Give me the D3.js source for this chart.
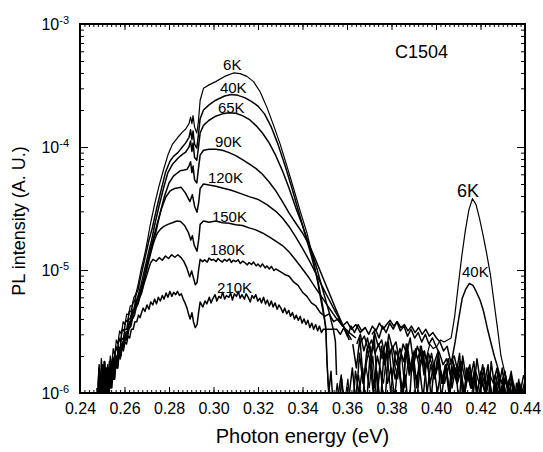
<!DOCTYPE html>
<html>
<head>
<meta charset="utf-8">
<script src="https://cdn.jsdelivr.net/npm/d3@7"></script>
<style>
  body { margin: 0; background: #fff; }
  svg { display: block; font-family: "Liberation Sans", Arial, sans-serif; }
</style>
</head>
<body>
<svg id="chart" width="543" height="452"></svg>
<script>
// temperatures (one PL spectrum each)
const temps = ['6K', '40K', '65K', '90K', '120K', '150K', '180K', '210K'];
const xTicks = [0.24, 0.26, 0.28, 0.30, 0.32, 0.34, 0.36, 0.38, 0.40, 0.42, 0.44];
const yTicks = [1e-6, 1e-5, 1e-4, 1e-3];

// noisy foot of the rising edge, [photon energy (eV), intensity in units of 1e-6]
const low6K = [[0.2482,0.7],[0.2488,1.6],[0.2494,0.8],[0.2500,1.4],[0.2506,0.9],[0.2512,1.8],[0.2518,1.1],[0.2524,1.7],[0.2530,1.3],[0.2536,2.0],[0.2542,1.6],[0.2549,2.3],[0.2556,2.0],[0.2563,2.7],[0.2570,2.5],[0.2578,3.2],[0.2586,3.0],[0.2594,3.8],[0.2602,3.6],[0.2610,4.4],[0.2618,4.3],[0.2626,5.1],[0.2634,5.1],[0.2642,6.0],[0.2650,6.3],[0.2658,7.2],[0.2666,8.4],[0.2674,10.0],[0.2682,11.5],[0.2690,13.2],[0.2698,15.5],[0.2706,18.5]];
const low40K = [[0.2486,1.0],[0.2492,0.6],[0.2498,1.5],[0.2504,0.9],[0.2510,1.6],[0.2516,0.8],[0.2522,1.5],[0.2528,1.1],[0.2534,1.8],[0.2540,1.3],[0.2547,2.0],[0.2554,1.7],[0.2561,2.4],[0.2568,2.2],[0.2575,2.8],[0.2582,2.6],[0.2590,3.3],[0.2598,3.2],[0.2606,3.9],[0.2614,3.8],[0.2622,4.6],[0.2630,4.6],[0.2638,5.4],[0.2646,5.6],[0.2654,6.5],[0.2662,7.0],[0.2670,8.3],[0.2678,9.6],[0.2686,11.2],[0.2694,13.0],[0.2702,15.0],[0.2710,17.5]];
const low65K = [[0.2490,0.7],[0.2496,1.4],[0.2502,0.6],[0.2508,1.7],[0.2514,0.9],[0.2520,1.3],[0.2526,0.7],[0.2532,1.6],[0.2538,1.1],[0.2544,1.7],[0.2551,1.3],[0.2558,2.0],[0.2565,1.7],[0.2572,2.4],[0.2579,2.2],[0.2586,2.8],[0.2594,2.7],[0.2602,3.3],[0.2610,3.3],[0.2618,4.0],[0.2626,4.0],[0.2634,4.7],[0.2642,4.8],[0.2650,5.6],[0.2658,5.9],[0.2666,6.7],[0.2674,7.5],[0.2682,8.7],[0.2690,10.0],[0.2698,11.6],[0.2706,13.3],[0.2714,15.4],[0.2722,17.5]];
const low90K = [[0.2495,0.6],[0.2501,1.3],[0.2507,0.8],[0.2513,1.6],[0.2519,0.7],[0.2525,1.2],[0.2531,0.9],[0.2537,1.7],[0.2543,1.1],[0.2549,1.5],[0.2556,1.3],[0.2563,1.9],[0.2570,1.6],[0.2577,2.2],[0.2584,2.0],[0.2591,2.6],[0.2598,2.6],[0.2606,3.1],[0.2614,3.2],[0.2622,3.8],[0.2630,3.9],[0.2638,4.6],[0.2646,4.7],[0.2654,5.5],[0.2662,5.8],[0.2670,6.5],[0.2678,7.3],[0.2686,8.2],[0.2694,9.5],[0.2702,11.0],[0.2710,12.6],[0.2718,14.4],[0.2726,16.5]];
const low120K = [[0.2480,0.9],[0.2486,1.7],[0.2492,0.7],[0.2498,1.2],[0.2504,0.8],[0.2510,1.8],[0.2516,1.0],[0.2522,1.4],[0.2528,0.9],[0.2534,1.7],[0.2540,1.2],[0.2547,1.6],[0.2554,1.3],[0.2561,1.9],[0.2568,1.6],[0.2575,2.2],[0.2582,2.0],[0.2589,2.5],[0.2596,2.4],[0.2603,2.9],[0.2611,3.0],[0.2619,3.6],[0.2627,3.7],[0.2635,4.4],[0.2643,4.5],[0.2651,5.3],[0.2659,5.6],[0.2667,6.3],[0.2675,7.0],[0.2683,7.9],[0.2691,9.1],[0.2699,10.6],[0.2707,12.2],[0.2715,14.0],[0.2723,16.0],[0.2731,18.4]];
const low150K = [[0.2478,0.7],[0.2484,1.4],[0.2490,0.8],[0.2496,1.9],[0.2502,1.0],[0.2508,1.5],[0.2514,0.8],[0.2520,1.6],[0.2526,1.1],[0.2532,1.8],[0.2538,1.2],[0.2545,1.7],[0.2552,1.3],[0.2559,1.9],[0.2566,1.6],[0.2573,2.2],[0.2580,1.9],[0.2587,2.5],[0.2594,2.3],[0.2601,2.8],[0.2608,2.7],[0.2616,3.3],[0.2624,3.4],[0.2632,4.0],[0.2640,4.1],[0.2648,4.8],[0.2656,5.1],[0.2664,5.8],[0.2672,6.3],[0.2680,7.2],[0.2688,8.2],[0.2696,9.4],[0.2704,10.8],[0.2712,12.4],[0.2720,14.2],[0.2728,16.0],[0.2736,17.8]];
const low180K = [[0.2476,1.1],[0.2482,0.6],[0.2488,1.5],[0.2494,0.9],[0.2500,1.7],[0.2506,0.8],[0.2512,1.3],[0.2518,1.0],[0.2524,1.6],[0.2530,1.1],[0.2536,1.8],[0.2543,1.3],[0.2550,1.8],[0.2557,1.5],[0.2564,2.0],[0.2571,1.8],[0.2578,2.3],[0.2585,2.1],[0.2592,2.6],[0.2599,2.5],[0.2606,2.9],[0.2613,2.8],[0.2621,3.4],[0.2629,3.5],[0.2637,4.1],[0.2645,4.3],[0.2653,5.0],[0.2661,5.3],[0.2669,6.0],[0.2677,6.5],[0.2685,7.4],[0.2693,8.3],[0.2701,9.2],[0.2709,10.3],[0.2717,11.4]];
const low210K = [[0.2479,0.8],[0.2485,1.6],[0.2491,0.7],[0.2497,1.4],[0.2503,0.9],[0.2509,1.8],[0.2515,1.0],[0.2521,1.5],[0.2527,0.9],[0.2533,1.7],[0.2539,1.2],[0.2546,1.8],[0.2553,1.3],[0.2560,1.9],[0.2567,1.6],[0.2574,2.1],[0.2581,1.9],[0.2588,2.4],[0.2595,2.2],[0.2602,2.6],[0.2609,2.5],[0.2616,2.9],[0.2623,2.8],[0.2631,3.3],[0.2639,3.3],[0.2647,3.8],[0.2655,3.8],[0.2663,4.3],[0.2670,4.1]];

// main band, [photon energy (eV), PL intensity (a.u.)]
const pl6K = [[0.2715,2.3e-5],[0.2735,3.4e-5],[0.2755,4.8e-5],[0.2775,6.5e-5],[0.2795,8.6e-5],[0.2815,1.05e-4],[0.284,1.2e-4],[0.286,1.32e-4],[0.2875,1.4e-4],[0.289,1.55e-4],[0.2897,1.75e-4],[0.2903,1.55e-4],[0.2908,1.8e-4],[0.2915,1.45e-4],[0.2925,1.3e-4],[0.2932,1.6e-4],[0.294,2.4e-4],[0.2955,3.0e-4],[0.298,3.2e-4],[0.301,3.4e-4],[0.305,3.75e-4],[0.309,4.0e-4],[0.312,3.95e-4],[0.315,3.75e-4],[0.318,3.4e-4],[0.321,2.8e-4],[0.324,2.1e-4],[0.327,1.5e-4],[0.330,1.05e-4],[0.333,7e-5],[0.336,4.6e-5],[0.339,3.0e-5],[0.342,2.0e-5],[0.345,1.2e-5],[0.348,6e-6],[0.350,3.8e-6],[0.3505,3.2e-6],[0.351,1.8e-6],[0.3515,1.2e-6],[0.3525,0.7e-6]];
const pl40K = [[0.2725,2.2e-5],[0.2745,3.2e-5],[0.2765,4.5e-5],[0.2785,6.3e-5],[0.2805,7.7e-5],[0.282,8.4e-5],[0.284,9.0e-5],[0.286,1.0e-4],[0.2875,1.08e-4],[0.289,1.2e-4],[0.2897,1.38e-4],[0.2903,1.15e-4],[0.2908,1.35e-4],[0.2915,1.05e-4],[0.2925,0.98e-4],[0.2932,1.25e-4],[0.294,1.7e-4],[0.2955,2.0e-4],[0.298,2.2e-4],[0.301,2.4e-4],[0.305,2.6e-4],[0.308,2.67e-4],[0.311,2.63e-4],[0.314,2.52e-4],[0.317,2.35e-4],[0.320,2.15e-4],[0.323,1.85e-4],[0.326,1.45e-4],[0.329,1.05e-4],[0.332,7.2e-5],[0.335,4.8e-5],[0.338,3.1e-5],[0.341,2.0e-5],[0.344,1.3e-5],[0.347,8e-6],[0.349,5.2e-6],[0.3505,3.4e-6],[0.351,1.8e-6],[0.3518,1.0e-6],[0.3528,1.5e-6]];
const pl65K = [[0.2735,2.3e-5],[0.2755,3.3e-5],[0.2775,4.6e-5],[0.2795,6.2e-5],[0.2815,7.2e-5],[0.284,8.1e-5],[0.286,8.7e-5],[0.2875,9.1e-5],[0.289,1.0e-4],[0.2897,1.12e-4],[0.2903,9.2e-5],[0.2908,1.08e-4],[0.2915,8.2e-5],[0.2925,7.8e-5],[0.2932,9.8e-5],[0.294,1.3e-4],[0.2955,1.5e-4],[0.298,1.65e-4],[0.301,1.78e-4],[0.304,1.86e-4],[0.307,1.9e-4],[0.310,1.88e-4],[0.313,1.8e-4],[0.316,1.68e-4],[0.319,1.5e-4],[0.322,1.3e-4],[0.325,1.08e-4],[0.328,8.5e-5],[0.331,6.4e-5],[0.334,4.6e-5],[0.337,3.2e-5],[0.340,2.3e-5],[0.343,1.6e-5],[0.346,1.1e-5],[0.349,7e-6],[0.352,4.5e-6],[0.354,3.2e-6],[0.3548,2.6e-6],[0.3553,1.4e-6]];
const pl90K = [[0.274,2.0e-5],[0.276,2.9e-5],[0.278,4.0e-5],[0.280,5.1e-5],[0.282,5.8e-5],[0.2840,6.2e-5],[0.2850,6.4e-5],[0.2868,6.5e-5],[0.2882,6.6e-5],[0.2891,7.1e-5],[0.2897,7.6e-5],[0.2903,6.2e-5],[0.2908,7.0e-5],[0.2915,5.4e-5],[0.2925,5.1e-5],[0.2932,6.6e-5],[0.294,8.6e-5],[0.2955,9.4e-5],[0.298,9.6e-5],[0.301,9.6e-5],[0.304,9.4e-5],[0.307,9.0e-5],[0.310,8.5e-5],[0.313,7.9e-5],[0.316,7.3e-5],[0.319,6.7e-5],[0.322,6.0e-5],[0.325,5.2e-5],[0.328,4.4e-5],[0.331,3.6e-5],[0.334,2.9e-5],[0.337,2.4e-5],[0.340,2.0e-5],[0.343,1.6e-5],[0.346,1.2e-5],[0.349,8.8e-6],[0.352,6.5e-6],[0.355,4.8e-6],[0.358,3.6e-6],[0.361,2.7e-6]];
const pl120K = [[0.2745,2.3e-5],[0.2765,3.1e-5],[0.2785,3.9e-5],[0.2805,4.4e-5],[0.2825,4.6e-5],[0.2855,4.7e-5],[0.2875,4.2e-5],[0.2894,3.6e-5],[0.2905,4.1e-5],[0.2915,3.3e-5],[0.2926,2.95e-5],[0.2934,3.6e-5],[0.294,4.6e-5],[0.2955,5.0e-5],[0.298,4.9e-5],[0.301,4.8e-5],[0.304,4.65e-5],[0.308,4.45e-5],[0.312,4.2e-5],[0.316,3.95e-5],[0.320,3.75e-5],[0.324,3.4e-5],[0.328,3.0e-5],[0.331,2.65e-5],[0.334,2.25e-5],[0.337,1.85e-5],[0.340,1.5e-5],[0.343,1.2e-5],[0.346,9.4e-6],[0.349,7.3e-6],[0.352,5.7e-6],[0.355,4.5e-6],[0.358,3.6e-6],[0.362,2.7e-6]];
const pl150K = [[0.2748,2.0e-5],[0.2762,2.15e-5],[0.2775,2.25e-5],[0.2795,2.35e-5],[0.2815,2.42e-5],[0.2835,2.5e-5],[0.2852,2.48e-5],[0.287,2.3e-5],[0.2888,2.0e-5],[0.2898,1.75e-5],[0.2905,1.9e-5],[0.2913,1.6e-5],[0.2926,1.42e-5],[0.2934,1.8e-5],[0.294,2.35e-5],[0.2955,2.5e-5],[0.298,2.44e-5],[0.301,2.5e-5],[0.304,2.42e-5],[0.307,2.4e-5],[0.310,2.33e-5],[0.313,2.3e-5],[0.316,2.2e-5],[0.319,2.12e-5],[0.322,2.0e-5],[0.325,1.86e-5],[0.328,1.72e-5],[0.331,1.58e-5],[0.334,1.4e-5],[0.337,1.2e-5],[0.340,1.02e-5],[0.343,8.6e-6],[0.346,7.1e-6],[0.349,5.9e-6],[0.352,4.9e-6],[0.355,4.1e-6],[0.358,3.5e-6],[0.361,3.1e-6],[0.364,2.8e-6]];
const pl180K = [[0.2728,1.22e-5],[0.2742,1.18e-5],[0.2756,1.26e-5],[0.277,1.2e-5],[0.2784,1.3e-5],[0.2798,1.24e-5],[0.2812,1.33e-5],[0.2826,1.27e-5],[0.284,1.33e-5],[0.2854,1.26e-5],[0.2866,1.18e-5],[0.288,1.04e-5],[0.2893,8.8e-6],[0.2902,9.8e-6],[0.2910,8.6e-6],[0.2918,7.6e-6],[0.2926,7.9e-6],[0.2933,1.0e-5],[0.294,1.22e-5],[0.2951,1.17e-5],[0.296,1.21e-5],[0.2972,1.16e-5],[0.298,1.25e-5],[0.2991,1.2e-5],[0.300,1.22e-5],[0.3012,1.17e-5],[0.302,1.24e-5],[0.3031,1.19e-5],[0.304,1.16e-5],[0.3049,1.22e-5],[0.306,1.18e-5],[0.3072,1.23e-5],[0.308,1.15e-5],[0.3089,1.2e-5],[0.310,1.17e-5],[0.3111,1.21e-5],[0.312,1.13e-5],[0.3132,1.18e-5],[0.314,1.15e-5],[0.3152,1.1e-5],[0.316,1.15e-5],[0.3171,1.11e-5],[0.318,1.16e-5],[0.3192,1.08e-5],[0.320,1.12e-5],[0.3211,1.06e-5],[0.322,1.12e-5],[0.3232,1.04e-5],[0.324,1.08e-5],[0.3251,1.02e-5],[0.326,1.07e-5],[0.3272,0.99e-5],[0.328,1.02e-5],[0.330,9.7e-6],[0.332,9.2e-6],[0.334,8.9e-6],[0.336,8.0e-6],[0.338,7.5e-6],[0.340,6.6e-6],[0.342,6.1e-6],[0.344,5.4e-6],[0.346,5.1e-6],[0.348,4.5e-6],[0.350,4.2e-6],[0.352,4.4e-6],[0.354,3.8e-6],[0.356,4.0e-6],[0.358,3.5e-6],[0.360,3.8e-6],[0.362,3.3e-6],[0.364,3.6e-6],[0.366,3.1e-6],[0.368,3.4e-6]];
const pl210K = [[0.2675,4.4e-6],[0.2684,4.9e-6],[0.2692,4.6e-6],[0.2701,5.2e-6],[0.271,4.8e-6],[0.2718,5.5e-6],[0.2727,5.2e-6],[0.2735,5.8e-6],[0.2744,5.3e-6],[0.2752,6.0e-6],[0.2761,5.6e-6],[0.277,6.2e-6],[0.2778,5.8e-6],[0.2787,6.5e-6],[0.2795,6.0e-6],[0.2804,6.7e-6],[0.2813,6.1e-6],[0.2821,6.6e-6],[0.283,6.3e-6],[0.2838,6.7e-6],[0.2847,6.2e-6],[0.2855,6.4e-6],[0.2864,5.8e-6],[0.2872,5.4e-6],[0.2881,4.9e-6],[0.2889,4.3e-6],[0.2895,4.0e-6],[0.2903,4.5e-6],[0.291,3.8e-6],[0.2918,3.4e-6],[0.2926,3.6e-6],[0.2933,4.5e-6],
  [0.294,5.5e-6],[0.2952,5.0e-6],[0.2962,5.6e-6],[0.297,5.3e-6],[0.2981,6.0e-6],[0.2989,5.4e-6],[0.2996,5.8e-6],[0.3007,6.3e-6],[0.3015,5.6e-6],[0.3024,6.1e-6],[0.3033,5.9e-6],[0.3041,6.6e-6],[0.3050,5.8e-6],[0.3058,6.2e-6],[0.3069,6.0e-6],[0.3077,6.5e-6],[0.3085,5.7e-6],[0.3094,6.4e-6],[0.3103,6.1e-6],[0.3111,6.7e-6],[0.3120,5.9e-6],[0.3128,6.3e-6],[0.3139,5.8e-6],[0.3147,6.4e-6],[0.3156,6.0e-6],[0.3165,5.5e-6],[0.3173,6.2e-6],[0.3182,5.9e-6],[0.3190,6.3e-6],[0.3199,5.6e-6],[0.3208,5.9e-6],[0.3216,5.4e-6],[0.3225,6.0e-6],[0.3234,5.3e-6],[0.3242,5.7e-6],[0.3251,5.1e-6],[0.3260,5.6e-6],[0.3268,5.0e-6],[0.3277,5.4e-6],[0.3286,4.8e-6],[0.3294,5.2e-6],[0.3303,4.9e-6],[0.3312,4.5e-6],[0.3320,4.9e-6],[0.3329,4.4e-6],[0.3338,4.7e-6],[0.3346,4.2e-6],[0.3355,4.5e-6],[0.3364,4.0e-6],[0.3372,4.3e-6],[0.3381,3.9e-6],[0.3390,4.2e-6],[0.3398,3.7e-6],[0.3407,4.0e-6],[0.3416,3.6e-6],[0.3424,3.9e-6],[0.3433,3.4e-6],[0.3442,3.7e-6],[0.3450,3.3e-6],[0.3459,3.6e-6],[0.3468,3.2e-6],[0.3476,3.5e-6],[0.3485,3.1e-6],[0.3494,3.3e-6]];

// noisy tails and the 0.417 eV peak, in units of 1e-6; each spectrum is sampled
// every 1.6 meV from 0.354 eV, with a small per-spectrum offset of the grid
const tail6K = [0.7,1.2,0.6,0.8,1.3,0.6,0.9,1.4,0.8,1.7,1.1,2.0,0.9,1.6,1.2,2.2,1.0,1.8,1.3,2.1,1.1,1.9,1.5,2.3,1.6,2.2,1.9,2.5,2.3,
  2.4,2.7,2.6,2.7,2.8,4.2,7.5,13,21,31,38,34,26,19,13.5,9.3,5.6,3.4,2.0,1.5,1.1,1.4,0.9,1.3,0.8];
const tail40K = [0.6,0.9,1.4,0.6,0.8,0.6,1.5,1.0,1.6,0.7,1.9,1.0,1.5,0.8,2.1,1.2,1.6,0.9,1.8,1.1,1.4,0.7,2.0,1.3,1.6,0.9,1.9,1.2,1.7,1.0,1.5,1.2,1.6,
  1.8,2.6,4.0,5.9,7.0,7.8,7.5,6.6,5.7,4.6,3.4,2.6,2.0,1.6,1.2,1.5,0.9,1.3,0.8,1.2,0.7];
const tail65K = [null,0.6,1.3,0.7,0.9,1.6,0.8,2.1,1.2,1.8,2.4,1.1,2.0,1.5,0.7,1.9,2.3,1.3,1.7,0.9,2.2,1.4,1.8,0.8,1.6,2.1,1.0,1.7,1.3,2.0,0.9,1.5,1.9,1.1,1.6,0.8,2.0,1.3,1.7,1.0,1.9,1.2,1.6,0.7,1.8,1.1,1.5,0.8,1.4,1.0,1.3,0.7,1.2,0.9];
const tail90K = [null,null,null,null,null,2.5,1.6,2.8,1.2,2.3,1.8,2.9,1.0,2.4,1.7,2.6,1.3,2.2,1.9,0.8,2.5,1.5,2.1,1.1,2.4,1.4,2.0,0.9,1.8,2.2,1.2,1.7,1.0,1.9,1.4,2.1,0.8,1.6,1.3,1.8,1.0,1.5,1.2,1.7,0.8,1.4,1.1,1.6,0.9,1.3,0.7,1.2,1.0,1.4];
const tail120K = [null,null,null,null,null,null,2.5,3.0,2.2,2.8,2.0,3.1,2.4,2.7,1.9,3.0,2.3,2.6,1.8,2.5,2.1,2.8,1.7,2.4,2.0,2.2,1.6,2.1,1.4,1.9,1.2,1.7,1.0,1.6,1.3,1.8,0.9,1.5,1.1,1.4,0.8,1.3,1.0,1.5,0.9,1.2,0.7,1.1,1.3,0.8,1.2,0.9,1.1,0.8];
const tail150K = [null,null,null,null,null,null,null,2.6,2.9,2.3,2.7,2.1,2.5,1.9,2.6,2.0,2.4,1.7,2.3,1.8,2.5,1.6,2.2,1.9,2.4,1.5,2.1,1.7,1.4,1.8,1.2,1.6,1.0,1.5,1.2,1.7,0.9,1.4,1.1,1.6,0.8,1.3,1.0,1.4,0.7,1.2,0.9,1.3,0.8,1.1,0.7,1.0,0.9,1.1];
const tail180K = [null,null,null,null,null,null,null,null,null,null,3.0,3.3,2.8,3.5,3.1,3.7,3.3,3.8,3.2,3.5,2.9,3.3,2.8,3.1,2.6,3.0,2.5,2.8,2.4,2.1,1.7,1.9,1.4,1.7,1.2,1.5,1.0,1.4,1.1,1.3,0.9,1.2,1.0,1.3,0.8,1.1,0.9,1.2,0.8,1.0,0.7,1.1,0.9,1.0];
const tail210K = [3.3,3.0,3.4,2.9,3.5,3.1,3.6,3.2,3.4,3.0,3.5,3.2,3.7,3.3,3.6,3.9,3.5,3.8,3.4,3.6,3.2,3.5,3.1,3.4,3.0,3.3,2.9,3.1,2.8,2.6,2.2,2.4,1.8,2.0,1.5,1.8,1.3,1.6,1.1,1.5,1.2,1.7,1.0,1.4,1.2,1.6,0.9,1.3,1.1,1.5,0.8,1.2,1.0,1.3];

// curve labels, anchored in data coordinates (energy, intensity)
const labelE = [0.3043, 0.3029, 0.3020, 0.3007, 0.2975, 0.2993, 0.2984, 0.3016];
const labelI = [4.2e-4, 2.75e-4, 1.89e-4, 1.0e-4, 5.1e-5, 2.45e-5, 1.32e-5, 6.5e-6];
const peakLabels = ['6K', '40K'];
const peakE = [0.4094, 0.4117];
const peakI = [3.9e-5, 8.8e-6];
const sampleName = 'C1504';

const lows = [low6K, low40K, low65K, low90K, low120K, low150K, low180K, low210K];
const mains = [pl6K, pl40K, pl65K, pl90K, pl120K, pl150K, pl180K, pl210K];
const tails = [tail6K, tail40K, tail65K, tail90K, tail120K, tail150K, tail180K, tail210K];

const svg = d3.select('#chart');
const plotL = 80, plotR = 525, plotT = 24, plotB = 393;

const x = d3.scaleLinear().domain([0.24, 0.44]).range([plotL, plotR]);
const y = d3.scaleLog().domain([1e-6, 1e-3]).range([plotB, plotT]);

svg.append('defs').append('clipPath').attr('id', 'plot-clip')
  .append('rect').attr('x', plotL).attr('y', plotT)
  .attr('width', plotR - plotL).attr('height', plotB - plotT);

const line = d3.line()
  .defined(d => d[1] != null)
  .x(d => x(d[0]))
  .y(d => y(d[1]));

const curves = svg.append('g').attr('clip-path', 'url(#plot-clip)');
mains.forEach((m, i) => {
  const foot = lows[i].map(([e, v]) => [e, v * 1e-6]);
  const tail = tails[i].map((v, k) => [0.354 + 0.0016 * k + 0.0002 * i, v == null ? null : v * 1e-6]);
  curves.append('path')
    .datum(foot.concat(m, tail))
    .attr('d', line)
    .attr('fill', 'none')
    .attr('stroke', '#000')
    .attr('stroke-width', i === 0 ? 1.2 : 1.5)
    .attr('stroke-linejoin', 'round');
});

// axes: ticks point inward on all four sides
const minorX = x.ticks(100);
const minorY = y.ticks().filter(v => !yTicks.some(t => Math.abs(v - t) / t < 1e-6));

function styleAxis(g) {
  g.select('.domain').remove();
  g.selectAll('.tick line').attr('stroke', '#000').attr('stroke-width', 1);
}

svg.append('g').attr('transform', `translate(0,${plotB})`)
  .call(d3.axisBottom(x).tickValues(minorX).tickSize(-3).tickFormat(''))
  .call(styleAxis);
svg.append('g').attr('transform', `translate(0,${plotT})`)
  .call(d3.axisTop(x).tickValues(minorX).tickSize(-3).tickFormat(''))
  .call(styleAxis);
svg.append('g').attr('transform', `translate(0,${plotT})`)
  .call(d3.axisTop(x).tickValues(xTicks).tickSize(-6).tickFormat(''))
  .call(styleAxis);

const xAxis = svg.append('g').attr('transform', `translate(0,${plotB})`)
  .call(d3.axisBottom(x).tickValues(xTicks).tickSize(-6).tickPadding(10).tickFormat(d3.format('.2f')))
  .call(styleAxis);
xAxis.selectAll('.tick text').attr('font-size', 16).attr('fill', '#000')
  .attr('font-family', '"Liberation Sans", Arial, sans-serif');

svg.append('g').attr('transform', `translate(${plotL},0)`)
  .call(d3.axisLeft(y).tickValues(minorY).tickSize(-4).tickFormat(''))
  .call(styleAxis);
svg.append('g').attr('transform', `translate(${plotR},0)`)
  .call(d3.axisRight(y).tickValues(minorY).tickSize(-4).tickFormat(''))
  .call(styleAxis);
svg.append('g').attr('transform', `translate(${plotR},0)`)
  .call(d3.axisRight(y).tickValues(yTicks).tickSize(-8).tickFormat(''))
  .call(styleAxis);

const yAxis = svg.append('g').attr('transform', `translate(${plotL},0)`)
  .call(d3.axisLeft(y).tickValues(yTicks).tickSize(-8).tickPadding(11).tickFormat(''))
  .call(styleAxis);
yAxis.selectAll('.tick text').each(function(d) {
  const t = d3.select(this)
    .attr('font-size', 16).attr('fill', '#000')
    .attr('font-family', '"Liberation Sans", Arial, sans-serif');
  t.text('10');
  t.append('tspan').attr('dy', '-0.55em').attr('font-size', 11).text(Math.round(Math.log10(d)));
});

// frame
svg.append('rect')
  .attr('x', plotL).attr('y', plotT)
  .attr('width', plotR - plotL).attr('height', plotB - plotT)
  .attr('fill', 'none').attr('stroke', '#000').attr('stroke-width', 2);

// axis titles
svg.append('text')
  .attr('x', (plotL + plotR) / 2).attr('y', 443)
  .attr('text-anchor', 'middle').attr('font-size', 20)
  .text('Photon energy (eV)');
svg.append('text')
  .attr('transform', 'translate(25,221) rotate(-90)')
  .attr('text-anchor', 'middle').attr('font-size', 18)
  .text('PL intensity (A. U.)');

// curve labels
svg.append('g').selectAll('text')
  .data(temps)
  .join('text')
  .attr('x', (d, i) => x(labelE[i]))
  .attr('y', (d, i) => y(labelI[i]))
  .attr('font-size', 15)
  .text(d => d);

svg.append('g').selectAll('text')
  .data(peakLabels)
  .join('text')
  .attr('x', (d, i) => x(peakE[i]))
  .attr('y', (d, i) => y(peakI[i]))
  .attr('font-size', (d, i) => i === 0 ? 18 : 15)
  .text(d => d);

svg.append('text')
  .attr('x', x(0.3816)).attr('y', y(5.3e-4))
  .attr('font-size', 18)
  .text(sampleName);
</script>
</body>
</html>
